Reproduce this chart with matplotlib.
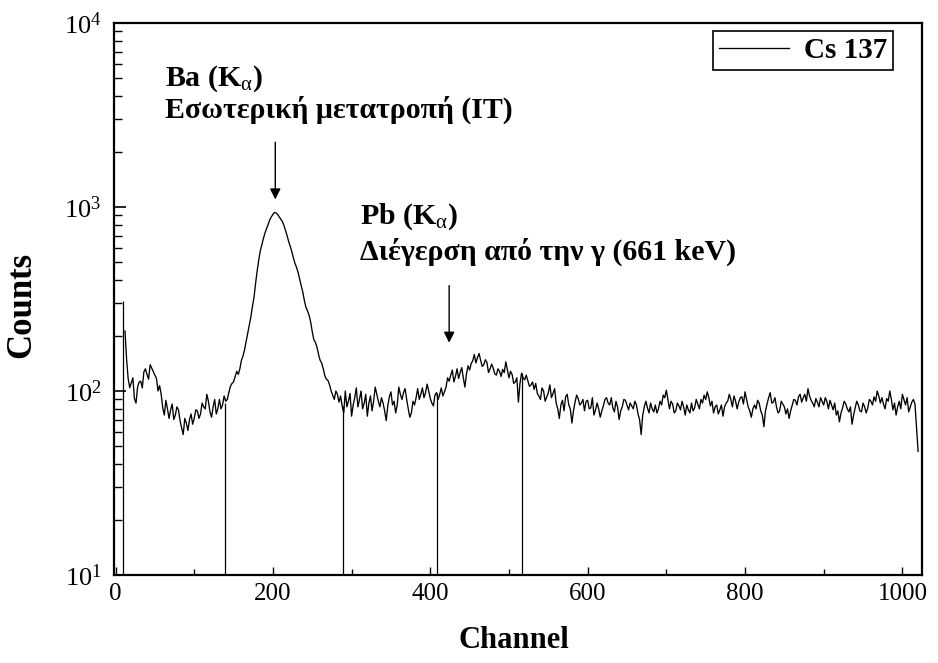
#!/usr/bin/env python3

import numpy as np
import matplotlib
matplotlib.use('Agg')
import matplotlib.pyplot as plt
from matplotlib.ticker import FixedLocator, LogLocator, NullFormatter


# counts, on channels 12, 16, 20 ... 1016
channels = np.arange(12, 1017, 4)
counts = [
  212, 117, 111,  91, 105, 113, 127, 123, 139, 127,   # 12 - 48
  117, 107,  81,  89,  71,  85,  74,  79,  63,  71,   # 52 - 88
   61,  75,  71,  78,  75,  82,  96,  77,  82,  75,   # 92 - 128
   90,  84,  88,  98, 110, 120, 123, 147, 168, 206,   # 132 - 168
  253, 323, 450, 578, 676, 764, 852, 910, 928, 884,   # 172 - 208
  835, 747, 650, 572, 495, 441, 373, 310, 272, 237,   # 212 - 248
  190, 173, 147, 132, 116, 108,  95, 100,  87,  83,   # 252 - 288
  100,  88,  73,  92,  82, 100,  86,  73,  94,  88,   # 292 - 328
   96,  82,  86,  69,  93,  84,  76, 105,  90, 103,   # 332 - 368
   80,  76,  84, 103,  96,  92, 109,  91,  83,  98,   # 372 - 408
   96,  94, 105, 113, 130, 120, 117, 134, 105, 137,   # 412 - 448
  141, 158, 152, 147, 139, 143, 132, 133, 122, 128,   # 452 - 488
  131, 144, 118, 123, 112,  87, 125, 115, 114, 108,   # 492 - 528
  102,  97,  90, 100,  93, 108,  97,  86,  71,  89,   # 532 - 568
   93,  84,  67,  87,  91,  86,  78,  89,  81,  74,   # 572 - 608
   86,  72,  83,  92,  84,  81,  88,  70,  82,  89,   # 612 - 648
   79,  83,  88,  75,  58,  82,  81,  86,  77,  76,   # 652 - 688
   88,  95, 101,  80,  85,  78,  83,  88,  74,  79,   # 692 - 728
   86,  81,  85,  90,  95,  99,  83,  76,  84,  79,   # 732 - 768
   73,  86,  96,  82,  88,  87,  93,  99,  82,  72,   # 772 - 808
   84,  89,  78,  64,  85,  98,  87,  82,  78,  85,   # 812 - 848
   75,  71,  84,  89,  93,  87,  96, 103,  89,  82,   # 852 - 888
   87,  92,  84,  88,  89,  79,  74,  68,  81,  85,   # 892 - 928
   77,  66,  81,  84,  77,  82,  81,  88,  93, 100,   # 932 - 968
   86,  85,  91, 100,  79,  74,  88,  96,  84,  77,   # 972 - 1008
   87,  85,                                           # 1012 - 1016
]

# the in-between channels 14, 18, 22 ... 1014
channels_mid = np.arange(14, 1015, 4)
counts_mid = [
  150, 104, 118,  86, 112, 104, 132, 116, 133, 122,   # 14 - 50
  100,  96,  74,  80,  79,  70,  82,  69,  58,  67,   # 54 - 90
   70,  66,  79,  71,  86,  80,  88,  72,  90,  80,   # 94 - 130
   80,  94,  90, 106, 112, 128, 132, 155, 186, 228,   # 134 - 170
  288, 385, 515, 625, 725, 805, 885, 935, 912, 860,   # 174 - 210
  795, 700, 612, 530, 470, 405, 345, 285, 258, 210,   # 214 - 250
  184, 158, 142, 121, 114, 100,  90,  96,  94,  76,   # 254 - 290
   82,  97,  84, 104,  90,  80,  96,  86,  78, 105,   # 294 - 330
   88,  92,  78,  83,  99,  88,  84,  96,  98,  90,   # 334 - 370
   72,  88,  92,  90, 104,  98, 100,  86,  95,  90,   # 374 - 410
  104,  99, 118, 122, 112, 132, 126, 118, 124, 130,   # 414 - 450
  146, 142, 160, 136, 148, 126, 140, 124, 132, 120,   # 454 - 490
  126, 130, 128, 110, 118, 110, 118, 122, 106, 112,   # 494 - 530
  110,  94, 104,  88,  98,  92, 103,  80,  84,  78,   # 534 - 570
   96,  80,  78,  95,  84,  90,  88,  80,  92,  79,   # 574 - 610
   80,  78,  90,  86,  92,  77,  82,  78,  90,  84,   # 614 - 650
   86,  80,  84,  70,  74,  88,  76,  80,  84,  80,   # 654 - 690
   84,  92,  90,  88,  76,  86,  79,  82,  84,  76,   # 694 - 730
   78,  90,  80,  86,  90,  92,  88,  82,  75,  84,   # 734 - 770
   82,  88,  90,  94,  80,  92,  85,  90,  78,  80,   # 774 - 810
   80,  86,  74,  78,  92,  86,  92,  76,  88,  82,   # 814 - 850
   80,  78,  90,  84,  96,  92,  88,  94,  86,  91,   # 854 - 890
   82,  88,  92,  80,  84,  86,  78,  76,  88,  80,   # 894 - 930
   82,  74,  88,  78,  86,  76,  90,  84,  88,  94,   # 934 - 970
   92,  80,  88,  90,  86,  82,  80,  90,  92,  82,   # 974 - 1010
   90,                                                # 1014
]
end_channel = 1020
end_count = 47

# marker lines (start of spectrum + ROI edges) dropping to the axis
roi_channels = [9, 139, 289, 409, 516]
roi_tops = [310, 86, 83, 97, 125]

# annotation arrows: channel, tail, head
ba_arrow = (203, 2250, 1099)
pb_arrow = (424, 374, 183)

x_ticks = [0, 200, 400, 600, 800, 1000]


def main():
  plt.rcParams['font.family'] = ['Liberation Serif', 'DejaVu Serif']
  plt.rcParams['mathtext.fontset'] = 'custom'
  plt.rcParams['mathtext.rm'] = 'Liberation Serif'
  plt.rcParams['mathtext.it'] = 'Liberation Serif:italic'
  plt.rcParams['mathtext.bf'] = 'Liberation Serif:bold'

  x = np.concatenate([channels, channels_mid, [end_channel]])
  y = np.concatenate([counts, counts_mid, [end_count]]).astype(float)
  order = np.argsort(x)
  x, y = x[order], y[order]

  fig = plt.figure(figsize=(9.38, 6.63), dpi=100)
  ax = fig.add_axes([0.1215, 0.1327, 0.8615, 0.8326])

  ax.plot(x, y, color='k', lw=0.95, label='Cs 137')
  ax.vlines(roi_channels, 10, roi_tops, color='k', lw=0.9)

  ax.set_yscale('log')
  ax.set_ylim(10, 1e4)
  ax.set_xlim(-2, 1025)

  ax.xaxis.set_major_locator(FixedLocator(x_ticks))
  ax.xaxis.set_minor_locator(FixedLocator([100, 300, 500, 700, 900]))
  ax.yaxis.set_major_locator(LogLocator(base=10))
  ax.yaxis.set_minor_locator(LogLocator(base=10, subs=np.arange(2, 10)))
  ax.yaxis.set_minor_formatter(NullFormatter())

  ax.tick_params(which='both', direction='in', top=False, right=False)
  ax.tick_params(axis='y', which='major', length=8.5, width=1.2, labelsize=19, pad=9)
  ax.tick_params(axis='y', which='minor', length=5.5, width=1.0)
  ax.tick_params(axis='x', which='major', length=6, width=1.0, labelsize=18, pad=6)
  ax.tick_params(axis='x', which='minor', length=4, width=1.0)

  for s in ax.spines.values():
    s.set_linewidth(1.6)

  ax.set_xlabel('Channel', fontsize=22, fontweight='bold')
  ax.set_ylabel('Counts', fontsize=25, fontweight='bold')
  ax.xaxis.set_label_coords(0.495, -0.093)
  ax.yaxis.set_label_coords(-0.094, 0.49)

  # peak labels
  ax.text(0.063, 0.886, r'Ba (K$_{\mathrm{\alpha}}$)', transform=ax.transAxes,
          fontsize=21.5, fontweight='bold', va='baseline')
  ax.text(0.063, 0.828, 'Εσωτερική μετατροπή (IT)', transform=ax.transAxes,
          fontsize=21.5, fontweight='bold', va='baseline')
  ax.text(0.304, 0.637, r'Pb (K$_{\mathrm{\alpha}}$)', transform=ax.transAxes,
          fontsize=21.5, fontweight='bold', va='baseline')
  ax.text(0.304, 0.572, 'Διέγερση από την γ (661 keV)', transform=ax.transAxes,
          fontsize=21.5, fontweight='bold', va='baseline')

  for ch, tail, head in (ba_arrow, pb_arrow):
    ax.annotate('', xy=(ch, head), xytext=(ch, tail),
                arrowprops=dict(arrowstyle='-|>', color='k', lw=1.0,
                                mutation_scale=16, shrinkA=0, shrinkB=0))

  leg = ax.legend(loc='upper right', bbox_to_anchor=(0.964, 0.985),
                  fancybox=False, framealpha=1, edgecolor='k',
                  handlelength=2.4, handletextpad=0.5, borderpad=0.2,
                  borderaxespad=0, prop={'size': 21, 'weight': 'bold'})
  leg.get_frame().set_linewidth(1.2)

  fig.savefig('out.png', dpi=100)


if __name__ == '__main__':
  main()
